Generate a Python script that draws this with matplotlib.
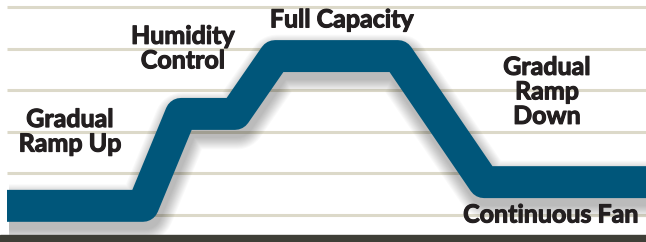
import matplotlib
matplotlib.use("Agg")
import matplotlib.pyplot as plt
import matplotlib.transforms as mtransforms
import matplotlib.patheffects as pe

# Fan-speed profile (x = time position, y = level on a 0..5 grid)
time_pts = [7, 143, 181, 235, 275, 398, 484, 660]
levels = [0.22, 0.22, 2.43, 2.43, 3.82, 3.82, 0.79, 0.79]
grid_levels = [0, 1, 2, 3, 4, 5]

labels = ["Gradual\nRamp Up", "Humidity\nControl", "Full Capacity",
          "Gradual\nRamp\nDown", "Continuous Fan"]
label_x = [70, 183, 342, 547, 551]
label_y = [2.0, 4.0, 4.69, 2.96, 0.0]

BAND = "#00567a"
GRID = "#dcd9c9"
TEXT = "#231f20"
BAR = "#3f3f37"

fig = plt.figure(figsize=(6.46, 2.42), dpi=100)
ax = fig.add_axes([0, 0, 1, 1])
ax.set_xlim(0, 646)
ax.set_ylim(-0.649, 5.168)
ax.axis("off")

# gridlines
for g in grid_levels:
    ax.plot([7, 646], [g, g], color=GRID, lw=2.2, solid_capstyle="butt", zorder=1)

# soft drop shadow
n = 12
for i in range(n):
    off = mtransforms.offset_copy(ax.transData, fig=fig, x=2, y=-7, units="dots")
    ax.plot(time_pts, levels, color="black", alpha=0.025,
            lw=23 + 1.5 * (n - i), solid_joinstyle="round",
            solid_capstyle="butt", transform=off, zorder=2)

# main band
ax.plot(time_pts, levels, color=BAND, lw=23, solid_joinstyle="round",
        solid_capstyle="butt", zorder=3)

# bottom bar
ax.axhspan(-0.649, -0.49, color=BAR, zorder=4)

for t, x, y in zip(labels, label_x, label_y):
    ax.text(x, y, t, ha="center", va="center", fontsize=18.0,
            fontweight="bold", family="Lato", color=TEXT, linespacing=1.08,
            zorder=5,
            path_effects=[pe.withStroke(linewidth=0.8, foreground=TEXT)])

fig.savefig("out.png", dpi=100)
